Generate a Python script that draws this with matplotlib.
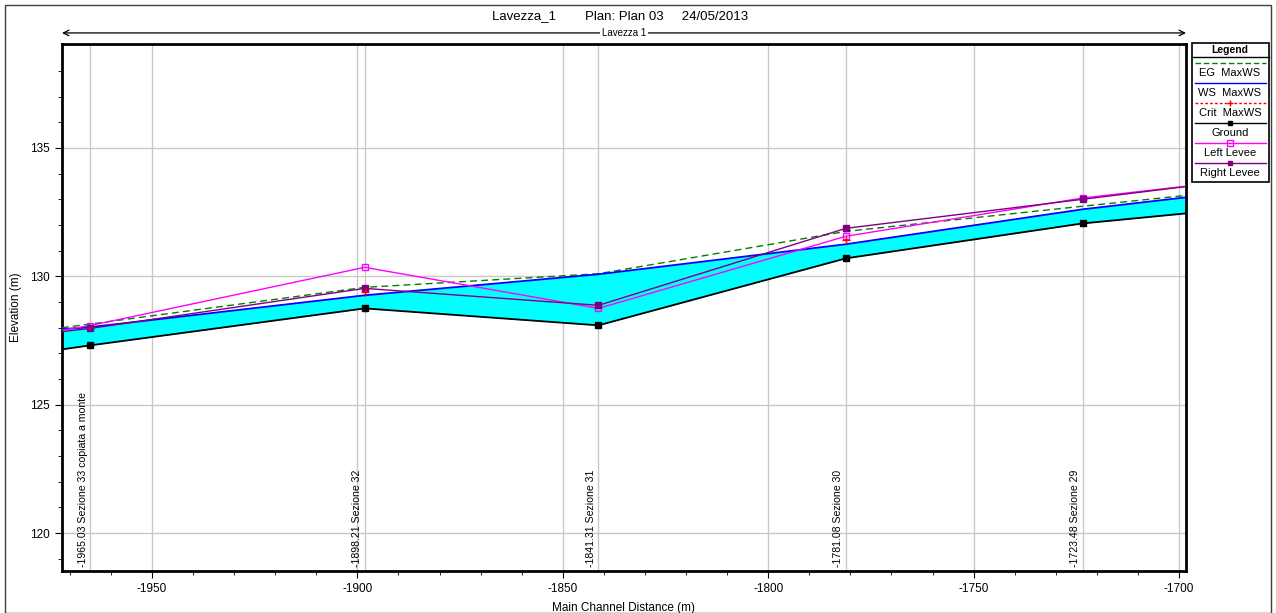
import numpy as np
import matplotlib
matplotlib.use("Agg")
import matplotlib.pyplot as plt
from matplotlib.lines import Line2D
from matplotlib.patches import Rectangle
import matplotlib.transforms as mtransforms

plt.rcParams["font.family"] = ["Liberation Sans", "DejaVu Sans"]

# stations (main channel distance, m); first and last are outside the view
stations = [-1980.0, -1965.03, -1898.21, -1841.31, -1781.08, -1723.48, -1690.0]
section_names = ["", "Sezione 33 copiata a monte", "Sezione 32", "Sezione 31",
                 "Sezione 30", "Sezione 29", ""]

ground = [126.97, 127.31, 128.75, 128.09, 130.70, 132.06, 132.58]
ws_max = [127.85, 128.02, 129.26, 130.08, 131.25, 132.61, 133.23]
eg_max = [127.83, 128.14, 129.57, 130.10, 131.75, 132.73, 133.29]
crit_max = [np.nan, np.nan, 129.38, np.nan, 131.40, np.nan, np.nan]
left_levee = [127.70, 128.08, 130.35, 128.75, 131.56, 133.05, 133.66]
right_levee = [127.70, 127.97, 129.53, 128.87, 131.87, 133.00, 133.66]

x_ticks = [-1950, -1900, -1850, -1800, -1750, -1700]
y_ticks = [120, 125, 130, 135]

title_text = "Lavezza_1        Plan: Plan 03     24/05/2013"
reach_name = "Lavezza 1"


def draw_profile(ax):
    x = np.array(stations)
    ax.fill_between(x, ground, ws_max, color="#00ffff", zorder=2, linewidth=0)

    inner = slice(1, len(stations) - 1)
    ax.plot(x, eg_max, color="#008000", linestyle=(0, (5, 3)), linewidth=1.0, zorder=5)
    ax.plot(x, ws_max, color="#0000ff", linewidth=1.3, zorder=5)
    ax.plot(x, ground, color="black", linewidth=1.3, zorder=5)
    ax.plot(x[inner], np.array(ground)[inner], "s", color="black", markersize=4.5, zorder=6)
    ax.plot(x, left_levee, color="#ff00ff", linewidth=1.0, zorder=5)
    ax.plot(x[inner], np.array(left_levee)[inner], "s", markerfacecolor="none",
            markeredgecolor="#ff00ff", markersize=5, zorder=6)
    ax.plot(x, right_levee, color="#800080", linewidth=1.0, zorder=5)
    ax.plot(x[inner], np.array(right_levee)[inner], "s", color="#800080", markersize=4.5, zorder=6)
    ax.plot(x, crit_max, color="red", linestyle="--", marker="+", markersize=6,
            linewidth=0.8, zorder=6)

    # section lines and labels
    trans = mtransforms.blended_transform_factory(ax.transData, ax.transAxes)
    for st, name in zip(stations[inner], section_names[inner]):
        ax.axvline(st, color="#c8c8c8", linewidth=1.0, zorder=1)
        ax.text(st - 0.6, 0.008, f"{st:.2f} {name}", rotation=90, transform=trans,
                ha="right", va="bottom", fontsize=7.6, zorder=7)


def style_axes(ax):
    ax.set_xlim(-1971.9, -1698.3)
    ax.set_ylim(118.52, 139.05)
    ax.set_xticks(x_ticks)
    ax.set_xticklabels([str(t) for t in x_ticks])
    ax.set_yticks(y_ticks)
    ax.set_xticks(np.arange(-1970, -1699, 10), minor=True)
    ax.set_yticks(np.arange(119, 139, 1), minor=True)
    ax.grid(True, which="major", color="#c8c8c8", linewidth=1.0, zorder=0)
    ax.set_axisbelow(True)
    ax.tick_params(which="both", direction="out", labelsize=8.5, color="black")
    ax.tick_params(which="major", length=5)
    ax.tick_params(which="minor", length=3)
    for sp in ax.spines.values():
        sp.set_linewidth(2.0)
    ax.set_xlabel("Main Channel Distance (m)", fontsize=8.5)
    ax.set_ylabel("Elevation (m)", fontsize=8.5)
    ax.xaxis.set_label_coords(0.5, -0.058)
    ax.yaxis.set_label_coords(-0.036, 0.5)


def draw_legend(fig):
    W, H = 1276, 613

    def fx(px):
        return px / W

    def fy(py):
        return 1 - py / H

    fig.patches.append(Rectangle((fx(1192), fy(182)), fx(1269) - fx(1192), fy(43) - fy(182),
                                 transform=fig.transFigure, fill=False, edgecolor="black",
                                 linewidth=1.2))
    fig.lines.append(Line2D([fx(1192), fx(1269)], [fy(57), fy(57)],
                            transform=fig.transFigure, color="black", linewidth=1.0))
    fig.text(fx(1230), fy(50), "Legend", ha="center", va="center", fontsize=7.5,
             fontweight="bold")

    entries = [
        ("EG  MaxWS", dict(color="#008000", linestyle=(0, (4, 2)))),
        ("WS  MaxWS", dict(color="#0000ff")),
        ("Crit  MaxWS", dict(color="red", linestyle=(0, (2, 1.5)), marker="+", markersize=5)),
        ("Ground", dict(color="black", marker="s", markersize=3.5)),
        ("Left Levee", dict(color="#ff00ff", marker="s", markersize=4, markerfacecolor="none")),
        ("Right Levee", dict(color="#800080", marker="s", markersize=3.5)),
    ]
    y0 = 63
    for i, (label, style) in enumerate(entries):
        yl = y0 + 20 * i
        fig.lines.append(Line2D([fx(1195), fx(1266)], [fy(yl), fy(yl)],
                                transform=fig.transFigure, linewidth=1.0,
                                markevery=[1] if "marker" in style else None,
                                **style))
        if "marker" in style:
            fig.lines[-1].set_data([fx(1195), fx(1230), fx(1266)], [fy(yl)] * 3)
        fig.text(fx(1230), fy(yl + 10), label, ha="center", va="center", fontsize=8)


def main():
    fig = plt.figure(figsize=(12.76, 6.13), dpi=100)
    ax = fig.add_axes([62 / 1276, 1 - 571 / 613, (1186 - 62) / 1276, (571 - 44) / 613])

    draw_profile(ax)
    style_axes(ax)

    # outer frame
    fig.patches.append(Rectangle((5 / 1276, 0), (1271 - 5) / 1276, 1 - 5 / 613,
                                 transform=fig.transFigure, fill=False,
                                 edgecolor="#404040", linewidth=1.0))

    fig.text(620 / 1276, 1 - 16 / 613, title_text, ha="center", va="center", fontsize=9.5)

    # reach arrow above the plot
    ax.annotate("", xy=(0, 1.021), xytext=(1, 1.021), xycoords="axes fraction",
                arrowprops=dict(arrowstyle="<->", color="black", linewidth=0.9,
                                shrinkA=0, shrinkB=0))
    ax.text(0.5, 1.021, reach_name, transform=ax.transAxes, ha="center", va="center",
            fontsize=7, bbox=dict(facecolor="white", edgecolor="none", pad=1.5))

    draw_legend(fig)

    fig.savefig("out.png", dpi=100)


if __name__ == "__main__":
    main()
